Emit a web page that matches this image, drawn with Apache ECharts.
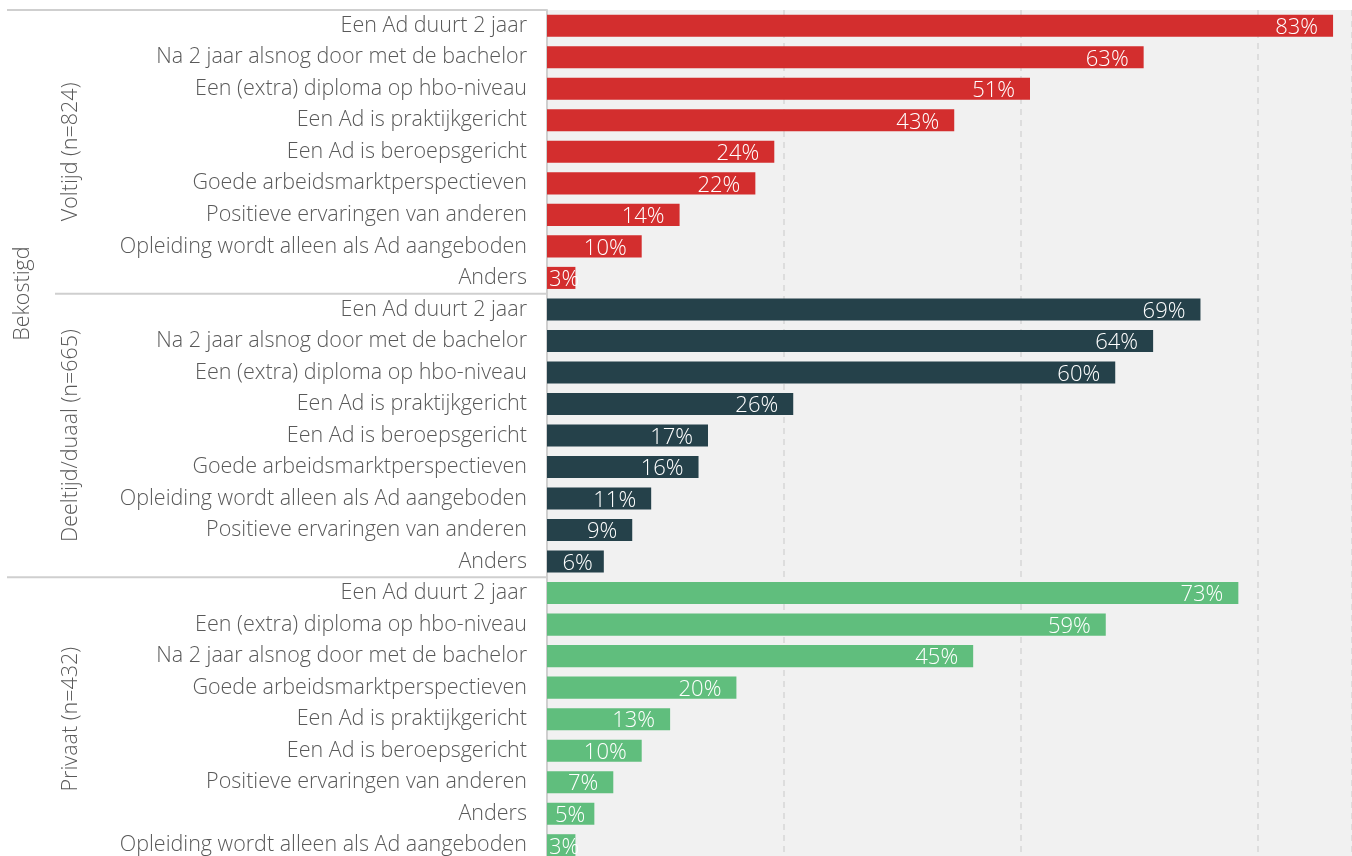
<!DOCTYPE html>
<html>
<head>
<meta charset="utf-8">
<script src="https://cdn.jsdelivr.net/npm/echarts@6/dist/echarts.min.js"></script>
<style>
  html, body { margin: 0; padding: 0; background: #fff; overflow: hidden; }
  #main { width: 1352px; height: 861px; }
</style>
</head>
<body>
<div id="main"></div>
<script>
const groupNames = ['Voltijd (n=824)', 'Deeltijd/duaal (n=665)', 'Privaat (n=432)']
const outerName = 'Bekostigd'
const groupColors = ['#d32e2e', '#25414a', '#60be7d']

const voltijdLabels = ['Een Ad duurt 2 jaar', 'Na 2 jaar alsnog door met de bachelor', 'Een (extra) diploma op hbo-niveau',
  'Een Ad is praktijkgericht', 'Een Ad is beroepsgericht', 'Goede arbeidsmarktperspectieven',
  'Positieve ervaringen van anderen', 'Opleiding wordt alleen als Ad aangeboden', 'Anders']
const voltijdValues = [83, 63, 51, 43, 24, 22, 14, 10, 3]

const deeltijdLabels = ['Een Ad duurt 2 jaar', 'Na 2 jaar alsnog door met de bachelor', 'Een (extra) diploma op hbo-niveau',
  'Een Ad is praktijkgericht', 'Een Ad is beroepsgericht', 'Goede arbeidsmarktperspectieven',
  'Opleiding wordt alleen als Ad aangeboden', 'Positieve ervaringen van anderen', 'Anders']
const deeltijdValues = [69, 64, 60, 26, 17, 16, 11, 9, 6]

const privaatLabels = ['Een Ad duurt 2 jaar', 'Een (extra) diploma op hbo-niveau', 'Na 2 jaar alsnog door met de bachelor',
  'Goede arbeidsmarktperspectieven', 'Een Ad is praktijkgericht', 'Een Ad is beroepsgericht',
  'Positieve ervaringen van anderen', 'Anders', 'Opleiding wordt alleen als Ad aangeboden']
const privaatValues = [73, 59, 45, 20, 13, 10, 7, 5, 3]

const groupLabels = [voltijdLabels, deeltijdLabels, privaatLabels]
const groupValues = [voltijdValues, deeltijdValues, privaatValues]

const textColor = '#595959'
const font = '"Open Sans", "Noto Sans", sans-serif'

// flatten groups into one category axis
const labels = []
const barData = []
const groupRanges = []
groupLabels.forEach((arr, g) => {
  const start = labels.length
  arr.forEach((name, i) => {
    labels.push(name)
    const v = groupValues[g][i]
    const item = { value: v, itemStyle: { color: groupColors[g] } }
    // short bars: label sits at the start of the bar
    if (v <= 3) item.label = { position: 'insideLeft', distance: 2 }
    else if (v < 6) item.label = { position: 'insideLeft', distance: 8 }
    else if (v < 7) item.label = { position: 'insideRight', distance: 11 }
    barData.push(item)
  })
  groupRanges.push([start, labels.length - 1])
})
const cats = labels.map((_, i) => String(i))

const chart = echarts.init(document.getElementById('main'))
chart.setOption({
  animation: false,
  textStyle: { fontFamily: font },
  grid: {
    left: 547, right: 0, top: 10, bottom: 0,
    show: true, backgroundColor: '#f1f1f1', borderWidth: 0
  },
  xAxis: {
    type: 'value', min: 0, max: 85, interval: 25,
    axisLabel: { show: false },
    axisTick: { show: false },
    axisLine: { show: false },
    splitLine: { show: true, lineStyle: { color: '#d6d6d6', type: [6, 5], width: 1.5 } }
  },
  yAxis: {
    type: 'category', inverse: true, data: cats,
    axisTick: { show: false },
    axisLine: { show: true, lineStyle: { color: '#cfcfcf', width: 2 } },
    axisLabel: {
      margin: 20, fontSize: 21.5, fontWeight: 300, color: textColor, fontFamily: font,
      padding: [5, 0, 0, 0],
      formatter: (v) => labels[+v]
    }
  },
  series: [{
    type: 'bar',
    data: barData,
    barCategoryGap: '30%',
    label: {
      show: true, position: 'insideRight', distance: 15, offset: [0, 2],
      color: '#fff', fontSize: 22, fontWeight: 300, fontFamily: font,
      formatter: '{c}%'
    }
  }]
})

// group labels and separator lines
const yOf = (i) => chart.convertToPixel({ yAxisIndex: 0 }, String(i))
const half = (yOf(1) - yOf(0)) / 2
const graphics = []
const plotLeft = 547
const labelFont = '300 21.5px ' + font
groupRanges.forEach((r, g) => {
  const y0 = yOf(r[0]) - half
  const y1 = yOf(r[1]) + half
  graphics.push({
    type: 'text', x: 71, y: (y0 + y1) / 2, rotation: Math.PI / 2,
    style: { text: groupNames[g], fill: textColor, font: labelFont, align: 'center', verticalAlign: 'middle' }
  })
  graphics.push({
    type: 'line',
    shape: { x1: g === 1 ? 55 : 7, y1: y0, x2: plotLeft, y2: y0 },
    style: { stroke: '#cfcfcf', lineWidth: 2 }
  })
})
const b0 = yOf(groupRanges[0][0]) - half
const b1 = yOf(groupRanges[1][1]) + half
graphics.push({
  type: 'text', x: 23, y: (b0 + b1) / 2, rotation: Math.PI / 2,
  style: { text: outerName, fill: textColor, font: labelFont, align: 'center', verticalAlign: 'middle' }
})
chart.setOption({ graphic: graphics })
</script>
</body>
</html>
